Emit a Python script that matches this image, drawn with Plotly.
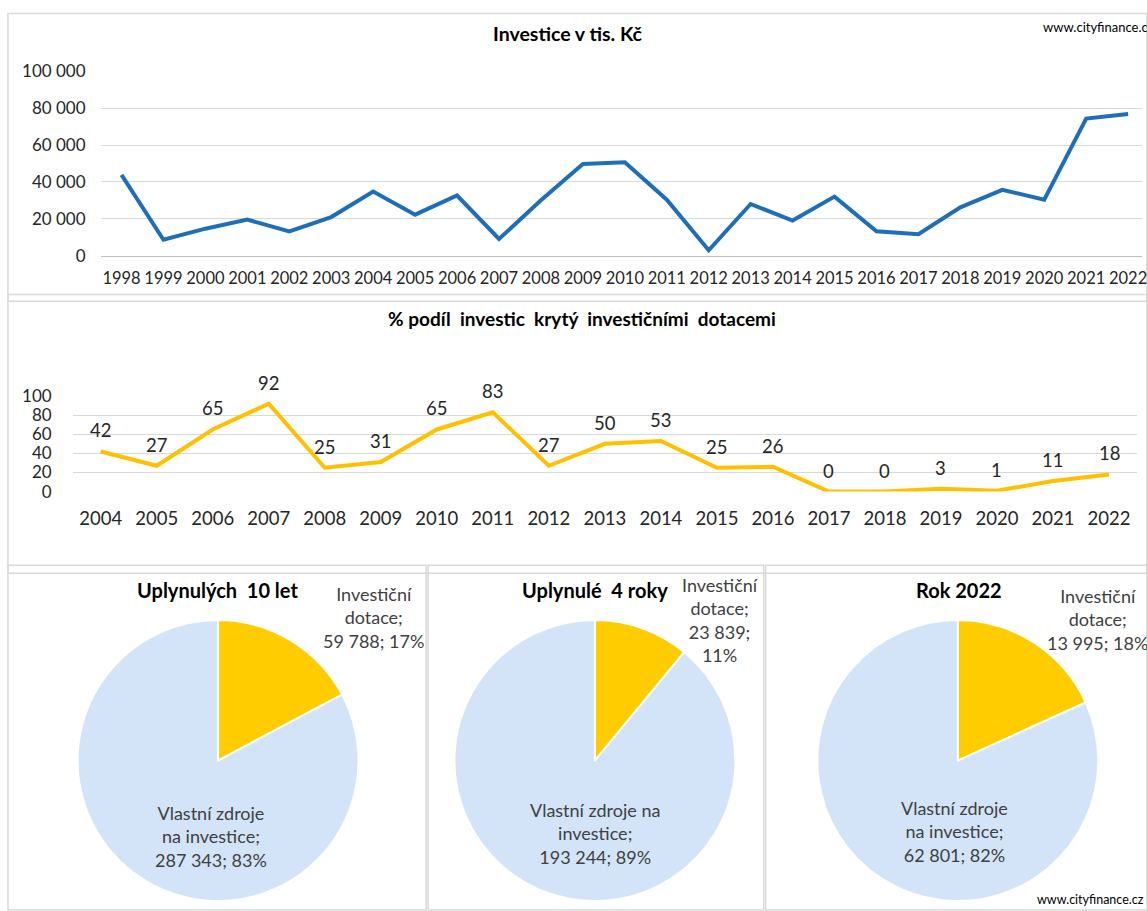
import plotly.graph_objects as go

# ---------------- data ----------------
years_invest = list(range(1998, 2023))
invest_values = [43800, 8600, 14600, 19500, 13100, 20900, 34800, 22200, 32600, 9000,
                 30000, 49700, 50600, 30300, 2900, 28000, 19000, 32000, 13200, 11600,
                 26200, 35700, 30300, 74400, 76800]

years_pct = list(range(2004, 2023))
pct_values = [42, 27, 65, 92, 25, 31, 65, 83, 27, 50, 53, 25, 26, 0, 0, 3, 1, 11, 18]

pie_titles = ["Uplynulých  10 let", "Uplynulé  4 roky", "Rok 2022"]
pie_labels = ["Investiční dotace", "Vlastní zdroje na investice"]
pie_dotace = [59788, 23839, 13995]
pie_vlastni = [287343, 193244, 62801]

# label texts (line-broken as in the original)
dotace_fmt = ["Investiční<br>dotace;<br>{v}; {p}%", "Investiční<br>dotace;<br>{v};<br>{p}%",
              "Investiční<br>dotace;<br>{v}; {p}%"]
vlastni_fmt = ["Vlastní zdroje<br>na investice;<br>{v}; {p}%", "Vlastní zdroje na<br>investice;<br>{v}; {p}%",
               "Vlastní zdroje<br>na investice;<br>{v}; {p}%"]

# ---------------- layout helpers ----------------
W, H = 1147, 911
FONT = "Lato, Carlito, Calibri, 'Open Sans', sans-serif"
TXT = "#262626"
BLUE = "#1F6FB8"
GOLD = "#FFC000"
GRID = "#D9D9D9"


def px(x):
    return x / W


def py(y):
    # empirical correction of vertical placement
    yy = (y - 10.4) / 0.981
    return min(1.0, max(0.0, 1 - yy / H))


def fmt_thousands(v):
    return f"{v:,}".replace(",", " ")


fig = go.Figure()

# top line chart
fig.add_trace(go.Scatter(x=years_invest, y=invest_values, mode="lines",
                         line=dict(color=BLUE, width=4), xaxis="x", yaxis="y",
                         showlegend=False))

# middle line chart
fig.add_trace(go.Scatter(x=years_pct, y=pct_values, mode="lines",
                         line=dict(color=GOLD, width=4), xaxis="x2", yaxis="y2",
                         showlegend=False))

# pies
pie_cx = [219, 597.5, 962]
pie_cy = 764
pie_r = 142
for i in range(3):
    fig.add_trace(go.Pie(
        labels=pie_labels, values=[pie_dotace[i], pie_vlastni[i]],
        sort=False, direction="clockwise", rotation=0,
        marker=dict(colors=["#FFCC00", "#D3E4F8"], line=dict(color="white", width=2)),
        textinfo="none", showlegend=False,
        domain=dict(x=[px(pie_cx[i] - pie_r), px(pie_cx[i] + pie_r)],
                    y=[py(pie_cy + pie_r), py(pie_cy - pie_r)]),
    ))


def note(text, x, y, size, color="#000", xanchor="center"):
    return dict(text=text, x=px(x), y=py(y), xref="paper", yref="paper", xanchor=xanchor,
                yanchor="middle", showarrow=False, align="center",
                font=dict(size=size, color=color, family=FONT))


annotations = []
# chart titles
annotations.append(note("<b>Investice v tis. Kč</b>", 570, 33, 19.5))
annotations.append(note("<b>% podíl  investic  krytý  investičními  dotacemi</b>", 585, 319, 19))
annotations.append(note("www.cityfinance.cz", 1046, 26, 13, xanchor="left"))
annotations.append(note("www.cityfinance.cz", 1040, 903, 12.5, xanchor="left"))

# data labels of middle chart
for yr, v in zip(years_pct, pct_values):
    annotations.append(dict(text=str(v), x=yr, y=v, xref="x2", yref="y2", yshift=21,
                            xanchor="center", yanchor="middle",
                            showarrow=False, font=dict(size=18.5, color=TXT, family=FONT)))

# pie titles and labels
title_x = [218, 598, 963]
dot_x = [375, 723, 1102]
dot_y = [619, 622, 621]
vl_x = [212, 598, 959]
vl_y = [839, 836, 834]
for i in range(3):
    tot = pie_dotace[i] + pie_vlastni[i]
    pd_ = round(100 * pie_dotace[i] / tot)
    pv_ = round(100 * pie_vlastni[i] / tot)
    annotations.append(note(f"<b>{pie_titles[i]}</b>", title_x[i], 592, 20))
    annotations.append(note(dotace_fmt[i].format(v=fmt_thousands(pie_dotace[i]), p=pd_),
                            dot_x[i], dot_y[i], 18, color="#404040"))
    annotations.append(note(vlastni_fmt[i].format(v=fmt_thousands(pie_vlastni[i]), p=pv_),
                            vl_x[i], vl_y[i], 18, color="#404040"))

# panel borders
shapes = []
panels = [(8, 13, 1152, 293), (8, 295, 1152, 566), (8, 567, 428, 925), (430, 567, 767, 925),
          (769, 567, 1152, 925)]
for x0, y0, x1, y1 in panels:
    shapes.append(dict(type="rect", xref="paper", yref="paper", x0=px(x0), y0=py(y1) - 0.01, x1=px(x1),
                       y1=py(y0), line=dict(color=GRID, width=1.5), fillcolor="rgba(0,0,0,0)", layer="below"))

fig.update_layout(
    width=W, height=H, margin=dict(l=0, r=0, t=0, b=0),
    paper_bgcolor="white", plot_bgcolor="white",
    separators=", ",
    font=dict(family=FONT, color=TXT),
    xaxis=dict(domain=[px(101), 1], range=[1997.5, 1997.5 + (W - 101) / 42.125], anchor="y",
               tickvals=years_invest, ticktext=[str(y) for y in years_invest],
               showgrid=False, zeroline=False, showline=True, linecolor="#BFBFBF", linewidth=1,
               ticks="", tickfont=dict(size=16.5, color=TXT, family=FONT), ticklabelstandoff=8,
               ticklabeloverflow="allow"),
    yaxis=dict(domain=[py(256), py(71)], range=[0, 100000], anchor="x",
               tickvals=list(range(0, 100001, 20000)), tickformat=",.0f",
               showgrid=True, gridcolor=GRID, gridwidth=1, zeroline=False, showline=False,
               ticks="", tickfont=dict(size=17, color=TXT, family=FONT), ticklabelstandoff=14),
    xaxis2=dict(domain=[px(73), px(1142)], range=[2003.5, 2022.5], anchor="y2",
                tickvals=years_pct, ticktext=[str(y) for y in years_pct],
                showgrid=False, zeroline=False, showline=False,
                ticks="", tickfont=dict(size=18.5, color=TXT, family=FONT), ticklabelstandoff=14),
    yaxis2=dict(domain=[py(493), py(397)], range=[0, 100], anchor="x2",
                tickvals=list(range(0, 101, 20)),
                showgrid=True, gridcolor=GRID, gridwidth=1, zeroline=False, showline=False,
                ticks="", tickfont=dict(size=17, color=TXT, family=FONT), ticklabelstandoff=20),
    annotations=annotations,
    shapes=shapes,
)

fig.write_html("out.html", config={"displayModeBar": False},
               post_script="document.body.style.margin='0';document.body.style.overflow='hidden';")
